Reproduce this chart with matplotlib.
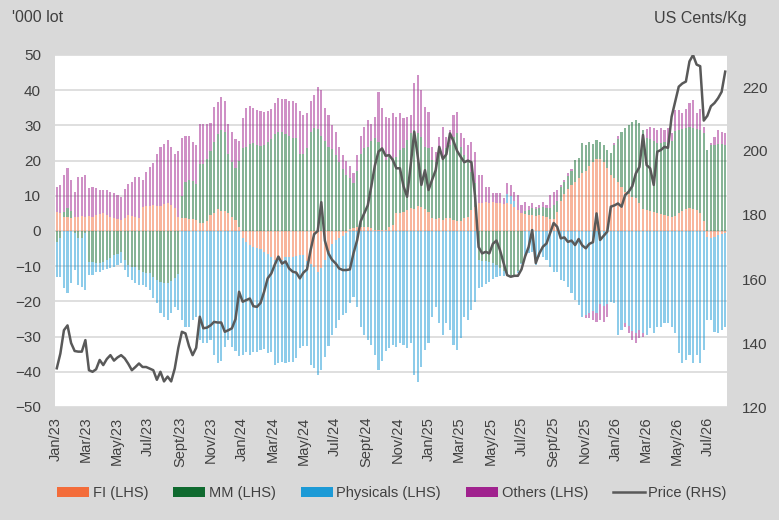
import numpy as np
import pandas as pd
import matplotlib
matplotlib.use("Agg")
import matplotlib.pyplot as plt
from matplotlib import font_manager
from matplotlib.patches import Patch
from matplotlib.lines import Line2D

# weekly positions, '000 lots (LHS) and US cents/kg (RHS)
weeks = pd.date_range("2023-01-03", periods=188, freq="7D")

fi = [
    5.5, 5, 4, 3.9, 3.6, 4, 4, 4.3, 4, 4.3,
    4, 4.5, 4.7, 5, 4.5, 4, 3.6, 3.3, 3.1, 3.6,
    4.5, 4.3, 3.9, 3.6, 6.9, 7.1, 7.1, 7.4, 7.1, 7.1,
    7.7, 7.9, 7.4, 6.4, 4, 3.6, 3.6, 3.3, 3.3, 3.1,
    2.4, 2.4, 2.7, 4.5, 5, 6.2, 5.8, 5.8, 5.1, 4,
    3, 1.2, -2, -3, -4, -4.5, -4.8, -5, -5.9, -6.5,
    -7.5, -8.2, -8, -8.2, -7.5, -7.5, -7.3, -7.2, -6.8, -6.8,
    -8.5, -9.5, -10.3, -11.6, -10.5, -8.2, -5.6, -3.6, -2.6, -2.1,
    -1.3, -0.5, 0.5, 0.8, 1, 1.2, 1.2, 1, 0.8, 0.3,
    0.2, 0.2, 0.3, 1.2, 1.7, 5, 5.2, 5.5, 6, 6.4,
    6.2, 7.1, 6.9, 6.2, 5.5, 3.6, 3.3, 3.6, 3.1, 3.6,
    3.6, 3.1, 2.7, 2.7, 3.6, 4.1, 6, 6.9, 7.9, 8,
    8.3, 7.9, 8.3, 7.9, 7.9, 7.7, 7.9, 7.7, 6.9, 6,
    5, 4.8, 4.5, 4.5, 4.3, 4.5, 4.3, 4, 3.5, 3.5,
    5.5, 8.5, 10.5, 12, 13, 14, 15, 16.5, 17, 18.5,
    19.5, 20.5, 20.5, 19.5, 18, 16, 15, 14, 12.5, 11,
    10.5, 9.8, 9.3, 8, 6.2, 6, 5.8, 5.5, 5, 4.7,
    4.5, 4.4, 4.1, 4.3, 5, 5.8, 6.2, 6.4, 6.2, 6,
    5, 2.7, -1.6, -2, -1.6, -1.2, -0.8, -0.5,
]

mm = [
    -3, -2, 1.5, 2.5, 2, -0.5, -2, -2, -0.5, -8.7,
    -8.7, -9.2, -9.2, -8.7, -8.2, -7.8, -6.8, -6.4, -5.9, -8.2,
    -9.7, -10.1, -10.1, -11.1, -11.6, -12, -12, -13, -13.9, -14.4,
    -14.9, -14.9, -14.2, -13.3, -12.3, 6.4, 10.4, 11.2, 11, 10.2,
    16.6, 16.6, 17.7, 18.2, 20.4, 21.3, 22.9, 22.4, 16.9, 15.5,
    15, 18.8, 23.5, 24, 24.7, 24.9, 24.5, 24.2, 24.5, 25.2,
    26.2, 27.5, 28.2, 28, 27.5, 27, 26.5, 26.5, 22, 22,
    23.5, 28, 29.2, 29, 27, 25.5, 24, 23.2, 21.5, 19.5,
    17.5, 16, 14.5, 12.7, 16, 20.8, 22.3, 23, 24.7, 26,
    25.2, 22.8, 19.9, 19.9, 18.9, 16.1, 17.8, 18, 19.9, 21.3,
    22.5, 20.6, 19.9, 17.8, 18, 16.6, 16.4, 19.4, 17.1, 19.9,
    20.8, 23.7, 25, 21.1, 18, 15.6, 10.9, 6.6, -8.2, -8.5,
    -8.5, -8.8, -9.2, -9.8, -10.5, -11.5, -12.5, -12.8, -12.5, -11.5,
    -9, 1, 1.5, 2, 2, 2, 2.5, 2.5, 3, 4,
    3, 4.1, 3.5, 3.5, 4, 6.2, 5.6, 8.4, 7.4, 6.9,
    5.1, 5.4, 4.9, 4.9, 5, 6.1, 9.5, 12, 15.5, 18.2,
    19.6, 21.3, 22.3, 22.6, 22.5, 20.5, 20.2, 20, 20, 20.3,
    20.7, 20.6, 21.4, 24.2, 23.8, 23.2, 23, 23.1, 23.1, 23,
    23.8, 25, 23, 24.5, 24.5, 24.8, 24.8, 24.5,
]

physicals = [
    -10, -11, -16.3, -17.7, -14.9, -10.5, -13.3, -13.8, -16.2, -3.8,
    -3.9, -2.4, -2.4, -2.3, -2.6, -2.8, -3.3, -3.3, -3.3, -2.8,
    -3.3, -3.9, -4.8, -4.2, -3.7, -4, -4.7, -6.1, -6.6, -9,
    -9.4, -10.4, -9.2, -8.2, -10.1, -25.3, -27.2, -27.2, -25.3, -24.3,
    -31, -31.9, -31.9, -31, -35.2, -37.6, -37, -33, -31, -33,
    -34, -35.5, -33.2, -31.3, -31.2, -29.8, -29.5, -28.8, -27.6, -28.3,
    -26.8, -29.8, -29.6, -28.9, -30.1, -29.6, -29.8, -29, -26.5, -26,
    -24.3, -28.5, -28.7, -29.3, -29, -27.5, -27.2, -25.9, -25, -23.2,
    -22.6, -22.9, -20.5, -18.7, -21.5, -27.2, -29.5, -31, -32.4, -35.2,
    -39.5, -37, -34, -33.3, -32.4, -32.9, -31.9, -32.4, -33.3, -31.9,
    -40.9, -42.8, -38.6, -33.8, -31.9, -24.3, -21.5, -26.2, -29.5, -26.2,
    -28.1, -32.4, -33.8, -30.5, -24.3, -25.3, -22.4, -20.1, -8.1, -7.5,
    -6.5, -5.7, -4.3, -3.2, -2.3, -1.3, 2.5, 2.2, 1.5, -0.5,
    -0.5, -7.3, -6.3, -5.9, -9.7, -7.3, -7.3, -8.2, -10.1, -11.6,
    -11.6, -13.9, -14.2, -15.8, -17.7, -19.6, -21, -24.3, -23.8, -23.3,
    -22.8, -23.3, -20.8, -21.3, -20.8, -20.1, -20.5, -29.5, -28, -26.2,
    -27.1, -28.5, -28.9, -28, -29, -29.5, -27.6, -29.1, -27.2, -27.2,
    -26.2, -26.2, -27.2, -29.1, -34.8, -37.6, -36.6, -35.2, -37.6, -35.2,
    -37.6, -33.8, -23.7, -23.3, -27, -27.9, -27.3, -26.7,
]

others = [
    7.1, 8, 10.4, 11.4, 8.9, 7.2, 11.2, 10.9, 11.9, 8,
    8.6, 7.6, 6.9, 6.6, 7.1, 7.2, 7.1, 6.9, 6.7, 8.2,
    8.8, 9.7, 11.3, 11.8, 7.6, 9.8, 11.2, 11.8, 14.9, 16.9,
    17, 18, 16.6, 15.6, 18.7, 16.3, 13, 12.5, 11.1, 11,
    11.4, 11.4, 10, 8.1, 9.9, 9.2, 9.3, 8.8, 8.4, 8.5,
    8, 5.5, 8.5, 11, 10.8, 10.1, 10, 9.8, 9.3, 8.8,
    8.4, 9, 9.6, 9.5, 10, 10, 10.5, 10, 12, 11,
    9.9, 9, 9.5, 11.8, 13, 9.5, 9, 6.8, 6.5, 4.5,
    4, 4, 3.5, 3, 4.5, 5, 6, 7.5, 5, 6.2,
    14.2, 12, 12.3, 10.9, 12.8, 11.4, 10.4, 8.5, 6.6, 5.3,
    13.3, 16.6, 13.2, 11.3, 10.4, 3.8, 2.8, 3.8, 9.4, 3.3,
    4.3, 6.2, 6.2, 3.9, 4.7, 4.7, 8.5, 9, 8, 7.9,
    4.3, 4.7, 2.4, 2.8, 2.8, 1.6, 3.1, 3.1, 2.8, 4.2,
    2.4, 2.5, 1, 1.4, 0.6, 0.9, 1.5, 0.9, 3.7, 3.7,
    3.1, 0.4, 0.5, 0.9, 0.5, 0, 0, 0, -1, -1.5,
    -2.5, -2.5, -4.5, -4.5, -3.5, 0, 0.5, 1, 0.2, -1,
    -2, -2.5, -3, -2.5, -1, 2.5, 3.6, 3.7, 3.7, 4.2,
    3.5, 4.2, 2.2, 5.9, 5.6, 4.4, 5.6, 6.8, 7.9, 4.4,
    6, 1.9, 0, 0.4, 2.3, 3.9, 3.4, 3.2,
]

price = [
    132.1, 136.7, 144, 145.5, 140, 137.5, 137.3, 137.3, 140.9, 131.5,
    131, 131.8, 134.7, 133.1, 135, 136.2, 134.5, 135.5, 136.2, 135.2,
    133.5, 131.5, 132.5, 133.6, 132.5, 132.5, 132, 131.5, 128.5, 131,
    128, 129.5, 128, 132, 138.5, 143.5, 143, 139, 136.2, 138.5,
    148.2, 144.6, 144.8, 145.5, 146.6, 146.4, 146.4, 143.5, 144, 144.6,
    147.5, 156, 152.9, 153.4, 153.9, 151.5, 151.3, 152.5, 156, 160.2,
    161.7, 164.5, 167, 164.8, 165.5, 163.3, 162.3, 162, 160.2, 162,
    163, 169, 174, 175, 184, 172, 168, 166, 164.9, 163.3,
    162.8, 162.8, 163, 168, 172, 178, 180.5, 183, 189, 195.5,
    199.8, 200.8, 198.5, 198.7, 197.2, 194.6, 194.6, 189, 185.7, 195.6,
    206, 198.2, 189.4, 194, 187.8, 191, 194, 201.3, 197.5, 199,
    205.5, 203, 200, 198.2, 196.5, 197, 196.5, 186, 170, 168,
    168.5, 168, 171, 172, 169, 165, 161.2, 160.7, 161, 161,
    163, 167, 170, 175.3, 165, 168, 170.1, 171.1, 174.3, 177.5,
    176.3, 172.7, 173, 171.6, 172, 170.6, 172.5, 170.5, 169.6, 171,
    171.5, 180.5, 172.2, 173.5, 174.8, 182.6, 183, 183.6, 182.6, 186.2,
    187.3, 189, 193, 195, 205, 195.6, 194.6, 189.4, 199.8, 200.3,
    201.3, 201, 210.7, 215.4, 220.1, 221.1, 221.7, 228, 230, 227,
    226.5, 209.5, 211, 214, 215, 216.5, 218.5, 224.8,
]

series_names = ["FI (LHS)", "MM (LHS)", "Physicals (LHS)", "Others (LHS)"]
series_colors = ["#F36C3A", "#0F6A2F", "#1C9AD6", "#A0228E"]

font_names = {f.name for f in font_manager.fontManager.ttflist}
base_font = "Liberation Sans"
legend_font = "Liberation Sans Narrow" if "Liberation Sans Narrow" in font_names else base_font
plt.rcParams["font.family"] = [base_font, "DejaVu Sans"]
text_col = "#404040"

fig = plt.figure(figsize=(7.79, 5.20), dpi=100, facecolor="#D9D9D9")
ax = fig.add_axes([55 / 779, 1 - 407 / 520, 672 / 779, 352 / 520])
ax.set_facecolor("white")

# stacked bars, positives and negatives piled separately (Excel style)
pos_base = np.zeros(len(weeks))
neg_base = np.zeros(len(weeks))
for vals, col in zip([fi, mm, physicals, others], series_colors):
    v = np.array(vals, dtype=float)
    bottom = np.where(v >= 0, pos_base, neg_base)
    ax.bar(weeks, v, bottom=bottom, width=4.2, color=col, alpha=0.5,
           linewidth=0, zorder=2)
    pos_base += np.clip(v, 0, None)
    neg_base += np.clip(v, None, 0)

ax.set_ylim(-50, 50)
ax.set_yticks(np.arange(-50, 51, 10))
ax.grid(axis="y", color="#D9D9D9", linewidth=1.2, zorder=0)
ax.set_axisbelow(True)
ax.set_xlim(weeks[0] - pd.Timedelta(days=3.5), weeks[-1] + pd.Timedelta(days=3.5))

ticks = pd.date_range("2023-01-01", "2026-07-01", freq="2MS")
labels = [("Sept" if d.month == 9 else d.strftime("%b")) + d.strftime("/%y") for d in ticks]
ax.set_xticks(ticks)
ax.set_xticklabels(labels, rotation=90, fontsize=10.5, color=text_col)
ax.tick_params(axis="x", length=0, pad=7)
ax.tick_params(axis="y", length=0, pad=10, labelsize=11, labelcolor=text_col)

ax2 = ax.twinx()
ax2.plot(weeks, price, color="#595959", linewidth=1.8, zorder=3)
ax2.set_ylim(120, 230)
ax2.set_yticks(np.arange(120, 221, 20))
ax2.tick_params(axis="y", length=0, pad=11, labelsize=11, labelcolor=text_col)

for a in (ax, ax2):
    for s in a.spines.values():
        s.set_visible(False)

fig.text(12 / 779, 1 - 17 / 520, "'000 lot", fontsize=11.5, color=text_col,
         ha="left", va="center")
fig.text(747 / 779, 1 - 19 / 520, "US Cents/Kg", fontsize=11.5, color=text_col,
         ha="right", va="center")

handles = [Patch(facecolor=c, edgecolor="none") for c in series_colors]
handles.append(Line2D([0], [0], color="#595959", linewidth=1.8))
fig.legend(handles, series_names + ["Price (RHS)"], loc="center",
           bbox_to_anchor=(392 / 779, 1 - 493 / 520), ncol=5, frameon=False,
           prop={"family": legend_font, "size": 10.5}, labelcolor=text_col,
           handlelength=2.2, handleheight=0.75, handletextpad=0.25,
           columnspacing=1.7)

fig.savefig("out.png", dpi=100, facecolor=fig.get_facecolor())
